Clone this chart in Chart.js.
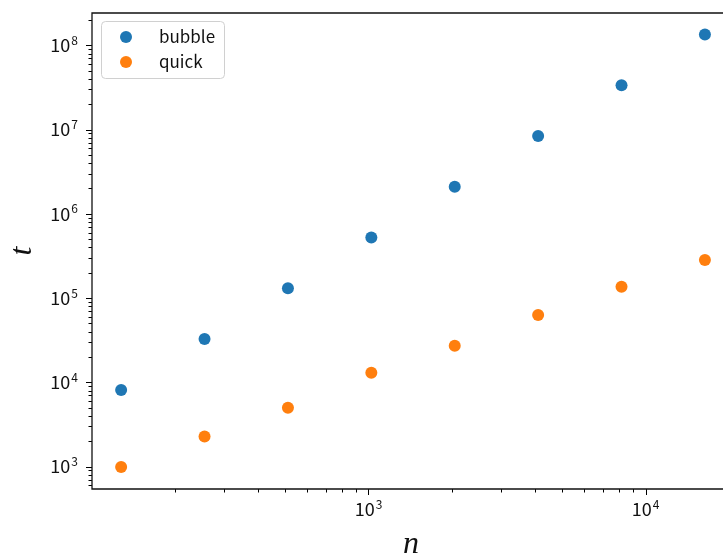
<!DOCTYPE html>
<html><head><meta charset="utf-8">
<script src="https://cdn.jsdelivr.net/npm/chart.js@4/dist/chart.umd.min.js"></script>
<style>html,body{margin:0;padding:0;background:#fff;overflow:hidden}#wrap{width:723px;height:553px}</style>
</head><body><div id="wrap"><canvas id="c" width="723" height="553"></canvas></div>
<script>
const sizes = [128, 256, 512, 1024, 2048, 4096, 8192, 16384];
const bubbleTimes = [8128, 32640, 130816, 523776, 2096128, 8386560, 33550336, 134209536];
const quickTimes = [990, 2270, 5000, 13000, 27200, 63000, 136000, 284000];
const seriesLabels = ['bubble', 'quick'];
const seriesColors = ['#1f77b4', '#ff7f0e'];
const xMajorExps = [3, 4];
const yMajorExps = [3, 4, 5, 6, 7, 8];
const xTitle = 'n';
const yTitle = 't';

const FONT = '"Noto Sans CJK JP", "Noto Sans", sans-serif';

function logTicks(min, max) {
  const out = [];
  for (let e = Math.floor(Math.log10(min)); e <= Math.ceil(Math.log10(max)); e++) {
    for (let m = 1; m <= 9; m++) {
      const v = m * Math.pow(10, e);
      if (v >= min && v <= max) out.push({v, major: m === 1});
    }
  }
  return out;
}

const decor = {
  id: 'decor',
  afterDraw(chart) {
    const ctx = chart.ctx, a = chart.chartArea;
    const xs = chart.scales.x, ys = chart.scales.y;
    ctx.save();
    ctx.strokeStyle = '#000';
    ctx.fillStyle = '#000';
    ctx.lineWidth = 1;
    for (const t of logTicks(xs.min, xs.max)) {
      const px = Math.round(xs.getPixelForValue(t.v)) + 0.5;
      const len = t.major ? 6 : 3.5;
      ctx.beginPath(); ctx.moveTo(px, a.bottom); ctx.lineTo(px, a.bottom + len); ctx.stroke();
    }
    for (const t of logTicks(ys.min, ys.max)) {
      const py = Math.round(ys.getPixelForValue(t.v)) + 0.5;
      const len = t.major ? 6 : 3.5;
      ctx.beginPath(); ctx.moveTo(a.left, py); ctx.lineTo(a.left - len, py); ctx.stroke();
    }
    ctx.lineWidth = 1.3;
    ctx.strokeStyle = '#111';
    ctx.beginPath();
    ctx.moveTo(a.right + 2, a.top); ctx.lineTo(a.left, a.top); ctx.lineTo(a.left, a.bottom); ctx.lineTo(a.right + 2, a.bottom);
    ctx.stroke();
    function sup(base, exp, x, y, align) {
      ctx.font = '18px ' + FONT;
      const bw = ctx.measureText(base).width;
      ctx.font = '12px ' + FONT;
      const ew = ctx.measureText(exp).width;
      const total = bw + ew + 1;
      let x0 = align === 'right' ? x - total : x - total / 2;
      ctx.textBaseline = 'middle';
      ctx.textAlign = 'left';
      ctx.font = '18px ' + FONT;
      ctx.fillText(base, x0, y);
      ctx.font = '12px ' + FONT;
      ctx.fillText(exp, x0 + bw + 1, y - 5);
    }
    ctx.fillStyle = '#111';
    for (const e of xMajorExps) {
      const px = xs.getPixelForValue(Math.pow(10, e));
      sup('10', String(e), px, a.bottom + 20, 'center');
    }
    for (const e of yMajorExps) {
      const py = ys.getPixelForValue(Math.pow(10, e));
      sup('10', String(e), a.left - 14, py, 'right');
    }
    ctx.font = 'italic 32px "Liberation Serif", "DejaVu Serif", serif';
    ctx.textAlign = 'center';
    ctx.textBaseline = 'alphabetic';
    ctx.fillText(xTitle, (a.left + 734) / 2 - 2, 553);
    ctx.save();
    ctx.translate(31, (a.top + a.bottom) / 2);
    ctx.rotate(-Math.PI / 2);
    ctx.fillText(yTitle, 0, 0);
    ctx.restore();
    const bx = 101.5, by = 21.5, bw = 123, bh = 57, r = 4;
    ctx.beginPath();
    ctx.moveTo(bx + r, by); ctx.lineTo(bx + bw - r, by); ctx.arcTo(bx + bw, by, bx + bw, by + r, r);
    ctx.lineTo(bx + bw, by + bh - r); ctx.arcTo(bx + bw, by + bh, bx + bw - r, by + bh, r);
    ctx.lineTo(bx + r, by + bh); ctx.arcTo(bx, by + bh, bx, by + bh - r, r);
    ctx.lineTo(bx, by + r); ctx.arcTo(bx, by, bx + r, by, r);
    ctx.closePath();
    ctx.fillStyle = 'rgba(255,255,255,0.8)';
    ctx.fill();
    ctx.lineWidth = 1;
    ctx.strokeStyle = '#d0d0d0';
    ctx.stroke();
    chart.data.datasets.forEach((ds, i) => {
      const cy = 37 + i * 25;
      ctx.beginPath();
      ctx.arc(126, cy, 6, 0, Math.PI * 2);
      ctx.fillStyle = ds.backgroundColor;
      ctx.fill();
      ctx.fillStyle = '#111';
      ctx.font = '17px ' + FONT;
      ctx.textAlign = 'left';
      ctx.textBaseline = 'middle';
      ctx.fillText(ds.label, 159, cy);
    });
    ctx.restore();
  }
};

new Chart(document.getElementById('c'), {
  type: 'scatter',
  data: {
    datasets: [
      { label: seriesLabels[0], data: sizes.map((n, i) => ({x: n, y: bubbleTimes[i]})), backgroundColor: seriesColors[0], borderColor: seriesColors[0], pointRadius: 6, borderWidth: 0 },
      { label: seriesLabels[1], data: sizes.map((n, i) => ({x: n, y: quickTimes[i]})), backgroundColor: seriesColors[1], borderColor: seriesColors[1], pointRadius: 6, borderWidth: 0 }
    ]
  },
  options: {
    responsive: false,
    animation: false,
    devicePixelRatio: 1,
    layout: { autoPadding: false, padding: { top: 13, left: 0, right: 0, bottom: 0 } },
    plugins: { legend: { display: false }, tooltip: { enabled: false } },
    scales: {
      x: { type: 'logarithmic', min: Math.pow(10, 2.002), max: Math.pow(10, 4.2797),
           grid: { display: false }, border: { display: false }, ticks: { display: false },
           afterFit(s) { s.height = 64; } },
      y: { type: 'logarithmic', min: Math.pow(10, 2.734), max: Math.pow(10, 8.384),
           grid: { display: false }, border: { display: false }, ticks: { display: false },
           afterFit(s) { s.width = 92; } }
    }
  },
  plugins: [decor]
});
</script></body></html>
